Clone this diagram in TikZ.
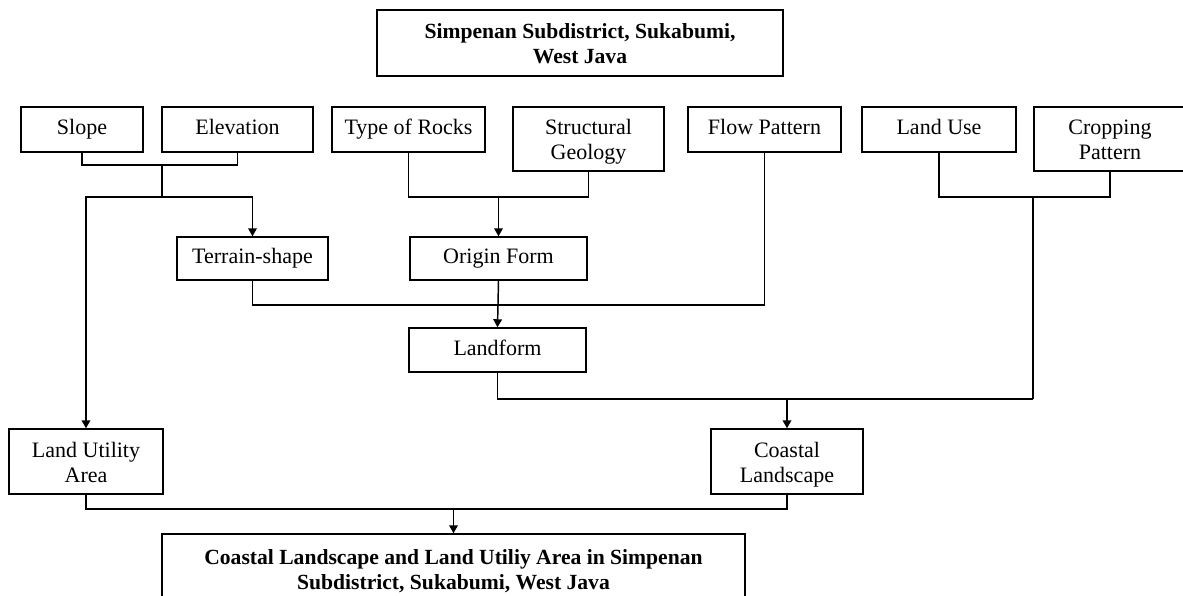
\documentclass[tikz,border=0pt]{standalone}
\usepackage{fontspec}
\setmainfont{Liberation Serif}
\usetikzlibrary{arrows.meta}
\newcommand\tallstrut{\rule{0pt}{18pt}}
\begin{document}
\begin{tikzpicture}[x=0.75pt,y=-0.75pt,line width=1.1pt,
  blk/.style={draw,align=center,inner sep=0pt,font=\fontsize{16.5}{19}\selectfont,
    execute at begin node=\strut,execute at end node=\strut},
  bblk/.style={blk,font=\fontsize{16.2}{19}\selectfont\bfseries},
  arr/.style={-{Triangle[length=6pt,width=6.5pt]}}]
\useasboundingbox (0,0) rectangle (1183,596);
\foreach \nm/\st/\xa/\ya/\xb/\yb/\txt in {
 title/bblk/377/10/783/76/{\tallstrut Simpenan Subdistrict, Sukabumi,\\West Java},
 slope/blk/21/107/143/152/{Slope},
 elev/blk/162/107/313/152/{Elevation},
 rocks/blk/332/107/485/152/{Type of Rocks},
 struct/blk/513/107/664/171/{\tallstrut Structural\\Geology},
 flow/blk/688/107/841/152/{Flow Pattern},
 landuse/blk/862/107/1016/152/{Land Use},
 crop/blk/1034/107/1186/171/{\tallstrut Cropping\\Pattern},
 terrain/blk/177/237/328/280/{Terrain-shape},
 origin/blk/410/237/587/280/{Origin Form},
 landform/blk/409/328/586/372/{Landform},
 utility/blk/9/429/163/494/{\tallstrut Land Utility\\Area},
 coastal/blk/711/429/863/494/{\tallstrut Coastal\\Landscape},
 result/bblk/162/534/745/604/{\tallstrut Coastal Landscape and Land Utiliy Area in Simpenan\\Subdistrict, Sukabumi, West Java}}
 \node[\st,minimum width=(\xb-\xa)*0.75pt,minimum height=(\yb-\ya)*0.75pt] (\nm) at ({(\xa+\xb)/2},{(\ya+\yb)/2}) {\txt};
% junctions
\coordinate (j1) at (162,165);
\coordinate (j2) at (162,197);
\coordinate (j3) at (origin.north |- 0,197);
\coordinate (j4) at (origin.south |- 0,305);
\coordinate (j5) at (1033,197);
\coordinate (j6) at (1033,399);
\coordinate (j7) at (result.north |- 0,509);
% slope, elevation
\draw (slope.south) |- (j1) -| (elev.south);
\draw (j1) -- (j2);
\draw[arr] (j2) -| (terrain.north);
\draw[arr] (j2) -| (utility.north);
% rocks, structure
\draw (rocks.south) |- (j3) -| (struct.south);
\draw[arr] (j3) -- (origin.north);
% landform
\draw (terrain.south) |- (j4) -| (flow.south);
\draw[arr] (origin.south) -- (landform.north);
% land use, cropping
\draw (landuse.south) |- (j5) -| (crop.south);
\draw (j5) -- (j6);
\draw (landform.south) |- (j6);
\draw[arr] (coastal.north |- j6) -- (coastal.north);
% result
\draw (utility.south) |- (j7) -| (coastal.south);
\draw[arr] (j7) -- (result.north);
\end{tikzpicture}
\end{document}
